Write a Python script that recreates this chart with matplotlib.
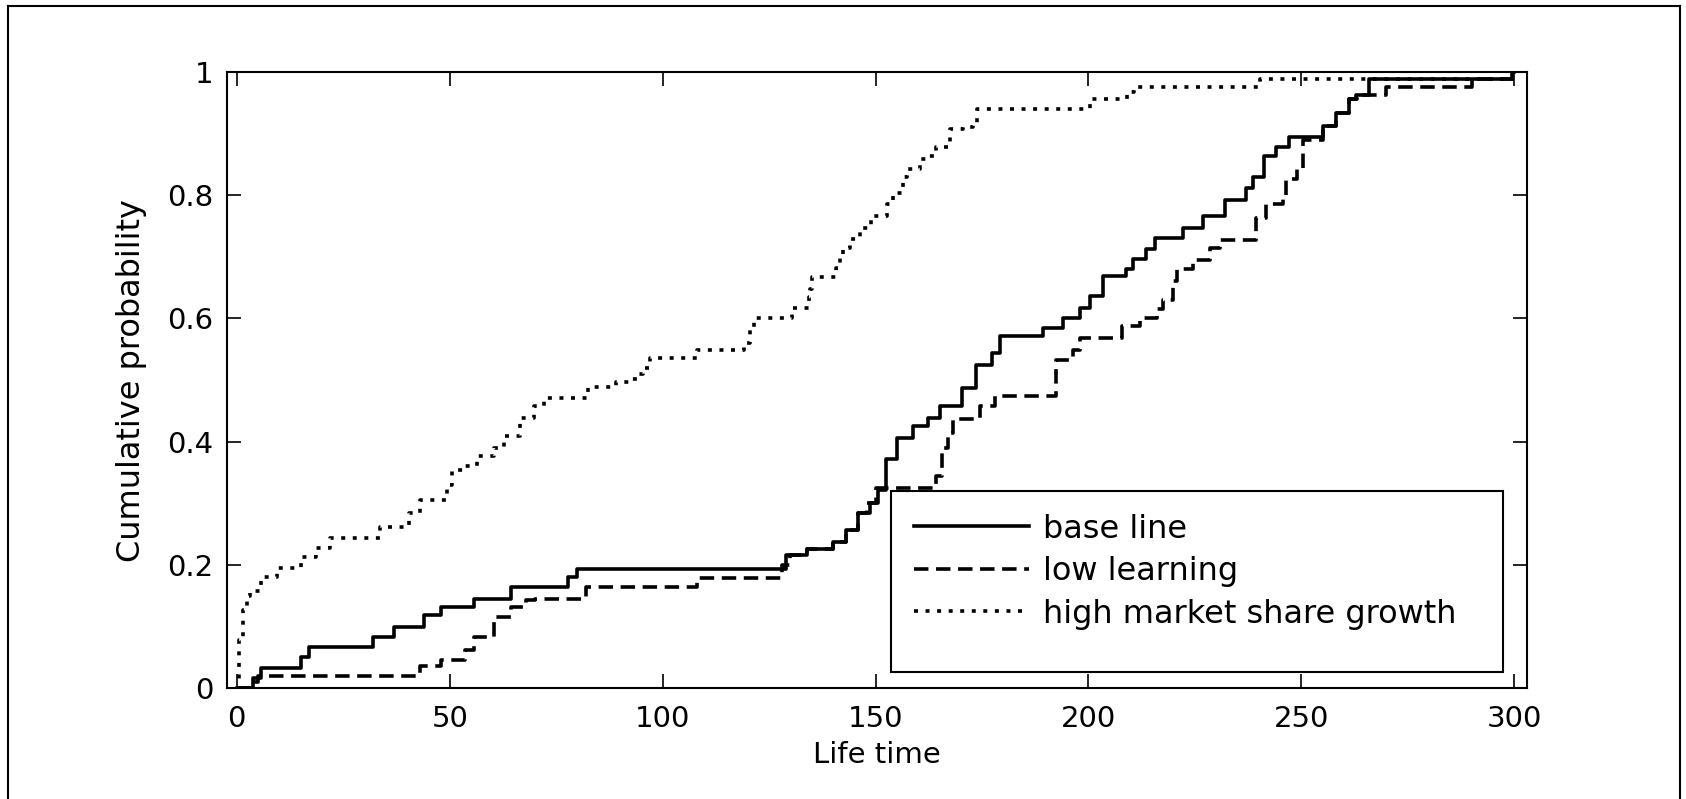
import matplotlib
matplotlib.use("Agg")
import matplotlib.pyplot as plt
from matplotlib.lines import Line2D
from matplotlib.patches import Rectangle

matplotlib.rcParams.update({
    "font.family": "DejaVu Sans",
    "font.size": 21,
    "axes.linewidth": 1.5,
    "xtick.direction": "in",
    "ytick.direction": "in",
    "xtick.major.size": 10,
    "ytick.major.size": 10,
    "xtick.major.width": 1.2,
    "ytick.major.width": 1.2,
    "xtick.top": True,
    "ytick.right": True,
})

base_x = [0, 3.7, 5.6, 15, 17, 32, 37, 44, 48, 55.6, 64.3, 77.7, 80, 129, 134,
          140, 143, 146, 148.7, 150.5, 152.5, 155, 158.8, 162.4, 165.1, 170.2,
          173.7, 177.3, 179.2, 189.4, 194.1, 198, 200.3, 203.5, 208.9, 210.5,
          213.6, 215.6, 222.2, 226.9, 232, 237, 238.6, 241.3, 244, 247.2, 255,
          258.2, 261.3, 262.9, 266, 299.5, 300]
base_y = [0, 0.017, 0.032, 0.05, 0.067, 0.083, 0.099, 0.118, 0.132, 0.145,
          0.164, 0.18, 0.193, 0.216, 0.225, 0.237, 0.256, 0.284, 0.30, 0.322,
          0.371, 0.406, 0.425, 0.439, 0.457, 0.487, 0.525, 0.544, 0.571, 0.585,
          0.601, 0.617, 0.636, 0.669, 0.680, 0.696, 0.712, 0.731, 0.747, 0.766,
          0.793, 0.812, 0.829, 0.864, 0.878, 0.894, 0.913, 0.934, 0.956, 0.962,
          0.989, 1.0, 1.0]

low_x = [0, 4, 5, 43, 48, 53.7, 55.6, 60.3, 64.3, 68, 70, 82, 108, 128, 130,
         134, 140, 143, 146, 148, 150, 164.3, 165.5, 167, 168.2, 174.5, 178,
         192.5, 196.4, 198, 208, 212, 216, 217.5, 219.9, 220.7, 224.6, 228.5,
         230.8, 239.4, 241.8, 245.7, 246.5, 249, 250.4, 255, 258.2, 261.3, 263,
         270, 290, 300]
low_y = [0, 0.01, 0.019, 0.035, 0.045, 0.061, 0.083, 0.115, 0.132, 0.143,
         0.145, 0.164, 0.179, 0.2, 0.216, 0.225, 0.237, 0.256, 0.284, 0.30,
         0.324, 0.344, 0.39, 0.414, 0.436, 0.457, 0.474, 0.533, 0.549, 0.568,
         0.587, 0.601, 0.615, 0.63, 0.66, 0.68, 0.695, 0.714, 0.728, 0.763,
         0.785, 0.796, 0.826, 0.842, 0.89, 0.913, 0.934, 0.956, 0.962, 0.975,
         0.989, 0.989]

high_x = [0, 0.5, 1.5, 2.4, 3.2, 5.6, 9.5, 15, 18.5, 22, 33.7, 40.4, 43, 49.4,
          50.6, 53.3, 56.4, 60.3, 62.7, 66.6, 69.7, 72.1, 82.5, 89, 92, 93.9,
          95.5, 97, 108, 119, 120.6, 121.5, 130.5, 134.3, 134.7, 135, 140.8,
          141.6, 142.4, 144, 146.3, 149, 152.6, 154, 156.5, 157.3, 160.4, 162.6,
          164.3, 167.4, 170.6, 173, 173.8, 200.4, 209, 210.8, 240.4, 300]
high_y = [0, 0.078, 0.127, 0.149, 0.158, 0.181, 0.195, 0.213, 0.227, 0.243,
          0.262, 0.284, 0.305, 0.33, 0.354, 0.36, 0.376, 0.39, 0.409, 0.439,
          0.457, 0.471, 0.488, 0.496, 0.502, 0.51, 0.52, 0.535, 0.549, 0.56,
          0.583, 0.6, 0.617, 0.634, 0.648, 0.668, 0.682, 0.701, 0.715, 0.729,
          0.747, 0.766, 0.785, 0.804, 0.829, 0.842, 0.859, 0.864, 0.878, 0.907,
          0.910, 0.918, 0.94, 0.956, 0.967, 0.975, 0.989, 0.989]

x_ticks = [0, 50, 100, 150, 200, 250, 300]
y_ticks = [0, 0.2, 0.4, 0.6, 0.8, 1]
y_tick_labels = ["0", "0.2", "0.4", "0.6", "0.8", "1"]

# -- Figure --------------------------------------------------------------------
fig = plt.figure(figsize=(16.86, 7.99), dpi=100)
ax = fig.add_axes([227 / 1686, 111 / 799, 1300 / 1686, 616 / 799])

LW = 2.6
ax.plot(base_x, base_y, drawstyle="steps-post", color="black", lw=LW,
        label="base line")
ax.plot(low_x, low_y, drawstyle="steps-post", color="black", lw=LW,
        linestyle=(0, (4.0, 2.1)), label="low learning")
ax.plot(high_x, high_y, drawstyle="steps-post", color="black", lw=LW,
        linestyle=(0, (1.1, 2.1)), label="high market share growth")

ax.set_xlim(-2.3, 303)
ax.set_ylim(0, 1)
ax.set_xticks(x_ticks)
ax.set_yticks(y_ticks)
ax.set_yticklabels(y_tick_labels)
ax.tick_params(axis="x", pad=12)
ax.tick_params(axis="y", pad=10)

ax.set_xlabel("Life time", labelpad=6)
ax.set_ylabel("Cumulative probability", fontsize=23, labelpad=14)

# legend entries without their own frame; MATLAB-style box drawn separately
ax.legend(loc="upper left", bbox_to_anchor=(0.5285, 0.283), borderaxespad=0,
          borderpad=0, frameon=False, fontsize=23, handlelength=3.6,
          handletextpad=0.45, labelspacing=0.36)
ax.add_patch(Rectangle((0.5108, 0.026), 0.4707, 0.2938, transform=ax.transAxes,
                       facecolor="white", edgecolor="black", lw=1.5,
                       zorder=4.5))
ax.get_legend().set_zorder(5)

# outer frame of the original screenshot
for xs, ys in [([8 / 1686, 8 / 1686], [0, 793 / 799]),
               ([8 / 1686, 1680 / 1686], [793 / 799, 793 / 799]),
               ([1680 / 1686, 1680 / 1686], [0, 793 / 799])]:
    fig.add_artist(Line2D(xs, ys, color="black", lw=1.5,
                          transform=fig.transFigure))

fig.savefig("out.png", dpi=100)
